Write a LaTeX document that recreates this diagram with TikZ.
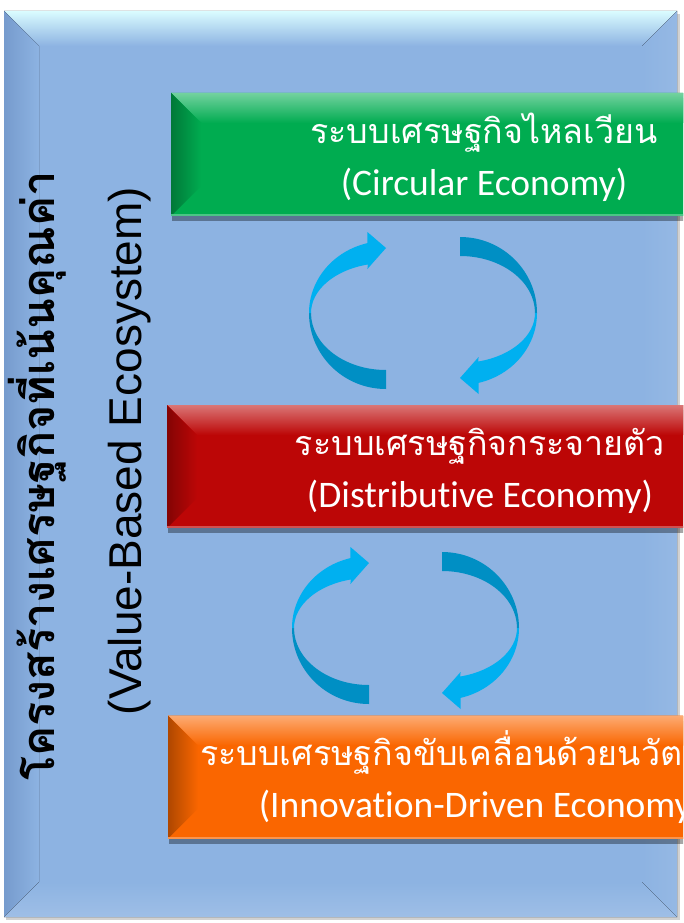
\documentclass[tikz,border=0pt]{standalone}
\usepackage{fontspec}
\setmainfont{Carlito}[Ligatures=NoCommon]
\newfontfamily\thaifont[Script=Thai]{Loma}
\newfontfamily\arialfont{Liberation Sans}
\usetikzlibrary{calc,shadows}

\definecolor{panelblue}{RGB}{141,179,226}
\definecolor{panelside}{RGB}{118,155,205}
\definecolor{paneltop}{RGB}{218,252,255}
\definecolor{arrlight}{RGB}{0,176,240}
\definecolor{arrdark}{RGB}{0,143,196}
\definecolor{circgreen}{RGB}{0,172,80}
\definecolor{distred}{RGB}{188,6,6}
\definecolor{innorange}{RGB}{250,102,0}

\begin{document}
\begin{tikzpicture}[x=1pt,y=-1pt,
 ecobox/.style={minimum width=626,minimum height=123,inner sep=0,fill=#1,text=white,align=center,
  font=\fontsize{37.5}{52}\selectfont,text height=81pt,text depth=0pt,
  drop shadow={shadow xshift=1pt,shadow yshift=-5pt,opacity=0.35,fill=black},
  path picture={
   \coordinate (nw) at (path picture bounding box.north west);
   \coordinate (ne) at (path picture bounding box.north east);
   \coordinate (sw) at (path picture bounding box.south west);
   \fill[top color=#1!55!white,bottom color=#1] (nw) -- (ne) -- ++(-30,30) -- ($(nw)+(30,30)$) -- cycle;
   \fill[left color=#1!70!black,right color=#1] (nw) -- ++(30,30) -- ($(sw)+(30,-30)$) -- (sw) -- cycle;
   \fill[#1!70!white] ($(sw)+(0,-2)$) rectangle ($(path picture bounding box.south east)$);
  }},
 swirl/.pic={
  \fill[arrdark] (-77,0) arc[start angle=180,end angle=90,x radius=77,y radius=76] -- (0,57)
   arc[start angle=90,end angle=180,x radius=75,y radius=57] -- cycle;
  \fill[arrlight] (-77,0) arc[start angle=180,end angle=256,x radius=77,y radius=72]
   -- (-18.6,-81) -- (0,-65) -- (-18.6,-44) -- (-18.14,-48.51)
   arc[start angle=256,end angle=180,x radius=75,y radius=50] -- cycle;
 }]
 \useasboundingbox (0,0) rectangle (683,923);
 \clip (0,0) rectangle (683,923);
 \fill[white] (0,0) rectangle (683,923);

 % panel
 \fill[black!18] (6,14) rectangle (680,920);
 \fill[panelblue] (4,11) rectangle (677,917);
 \fill[top color=paneltop,middle color=panelblue!80!paneltop,bottom color=panelblue] (4,11) -- (677,11) -- (642,46) -- (39,46) -- cycle;
 \fill[left color=panelside,right color=panelblue] (4,11) -- (39,46) -- (39,882) -- (4,917) -- cycle;
 \fill[left color=panelblue,right color=panelblue!93!white] (677,11) -- (642,46) -- (642,882) -- (677,917) -- cycle;
 \fill[top color=panelblue,bottom color=panelblue!85!white] (4,917) -- (39,882) -- (642,882) -- (677,917) -- cycle;

 \node[rotate=90,font=\thaifont\bfseries\fontsize{45}{50}\selectfont] (thtitle) at (37,476) {โครงสร้างเศรษฐกิจที่เน้นคุณค่า};
 \node[rotate=90,font=\arialfont\fontsize{46}{50}\selectfont] (entitle) at (130,451) {(Value-Based Ecosystem)};

 \node[ecobox=circgreen] (circ) at (484,154.5) {{\thaifont\fontsize{34}{52}\selectfont ระบบเศรษฐกิจไหลเวียน}\\(Circular Economy)};
 \node[ecobox=distred] (dist) at (480,466.5) {{\thaifont\fontsize{34}{52}\selectfont ระบบเศรษฐกิจกระจายตัว}\\(Distributive Economy)};
 \node[ecobox=innorange] (inno) at (481,777) {{\thaifont\fontsize{34}{52}\selectfont ระบบเศรษฐกิจขับเคลื่อนด้วยนวัตกรรม}\\(Innovation-Driven Economy)};

 \pic at (386,313) {swirl};
 \pic[rotate=180] at (460,313) {swirl};
 \pic at (369,628) {swirl};
 \pic[rotate=180] at (442,628) {swirl};
\end{tikzpicture}
\end{document}
